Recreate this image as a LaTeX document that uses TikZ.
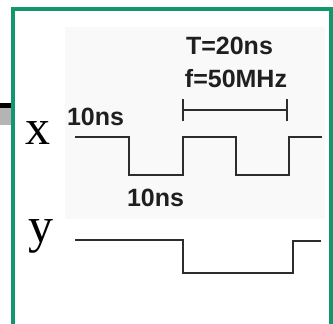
\documentclass[tikz,border=0pt]{standalone}
\usepackage{fontspec}
\setmainfont{Liberation Serif}
\setsansfont{Liberation Sans}
\usepackage{xcolor}
\usetikzlibrary{arrows.meta,positioning}
\definecolor{framegreen}{RGB}{18,150,110}
\definecolor{panelgray}{RGB}{249,249,249}
\definecolor{wavegray}{RGB}{45,45,45}
\definecolor{stubgray}{RGB}{180,180,180}
\tikzset{
  sig/.style={
    line width=2pt,
    draw=wavegray,
    line join=miter
  },
  timelbl/.style={
    font=\sffamily\bfseries\fontsize{25}{28}\selectfont,
    inner sep=0pt,
    text=black!88,
    anchor=base
  },
  siglbl/.style={
    font=\fontsize{50}{50}\selectfont,
    inner sep=0pt,
    anchor=base
  },
  period/.style={{Bar[width=22pt]}-{Bar[width=22pt]}, line width=2pt, draw=wavegray}
}

\begin{document}
\begin{tikzpicture}[x=1pt,y=-1pt]
\useasboundingbox (0,0) rectangle (333,324);
\fill[panelgray] (65,27) rectangle (325,219);
% stub on the left
\fill[stubgray] (0,108) rectangle (12,125);
\fill[black] (0,103) rectangle (12,108);
% frame
\draw[framegreen, line width=4pt] (13,340) -- (13,9) -- (331,9) -- (331,340);

% signal x
\coordinate (xstart) at (75,137);
\draw[sig] (xstart) -- ++(54,0) -- ++(0,38) -- ++(54,0) -- ++(0,-38)
  -- ++(53,0) -- ++(0,38) -- ++(53,0) -- ++(0,-38) -- ++(33,0);
% signal y
\coordinate (ystart) at (75,240);
\draw[sig] (ystart) -- ++(108,0) -- ++(0,33) -- ++(110,0) -- ++(0,-32) -- ++(28,0);

\node[siglbl] (xlbl) at (38,145) {x};
\node[siglbl] (ylbl) at (41,243) {y};

\node[timelbl] (thigh) at (95.5,125) {10ns};
\node[timelbl] (tlow) at (155.5,207) {10ns};
\node[timelbl] (tper) at (229.5,55) {T=20ns};
\node[timelbl] (fper) at (236,88) {f=50MHz};

\coordinate (pl) at (182,110);
\coordinate (pr) at (288,110);
\draw[period] (pl) -- (pr);
\end{tikzpicture}
\end{document}
